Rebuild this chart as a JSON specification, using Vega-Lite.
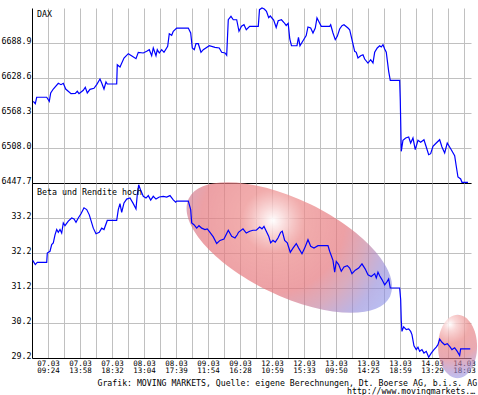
{
  "$schema": "https://vega.github.io/schema/vega-lite/v6.json",
  "background": "white",
  "padding": {"left": 1, "top": 5, "right": 0, "bottom": 0},
  "bounds": "flush",
  "spacing": 0,
  "config": {
    "view": {"stroke": null},
    "font": "DejaVu Sans Mono",
    "axis": {"labelFont": "DejaVu Sans Mono", "titleFont": "DejaVu Sans Mono", "labelColor": "black", "titleColor": "black", "gridColor": "#c0c0c0", "gridWidth": 1, "domainColor": "black", "domainWidth": 1, "ticks": false, "labelOverlap": false},
    "axisX": {"labelOverlap": false}
  },
  "title": {"text": "http://www.movingmarkets.de", "orient": "bottom", "anchor": "start", "dx": 346, "offset": 1, "baseline": "top", "fontSize": 8.2, "fontWeight": "normal", "font": "DejaVu Sans Mono", "color": "black", "limit": 131},
  "datasets": {
    "dax": [
      {"t":0.081,"v":6588.5},{"t":0.206,"v":6584.3},{"t":0.294,"v":6595.4},{"t":0.919,"v":6595.4},{"t":1.081,"v":6588.5},{"t":1.169,"v":6602.8},{"t":1.331,"v":6609.6},{"t":1.644,"v":6619.5},{"t":1.813,"v":6617.1},{"t":1.956,"v":6619.5},{"t":2.106,"v":6609.6},{"t":2.438,"v":6601.6},{"t":2.706,"v":6602.2},{"t":2.831,"v":6605.7},{"t":2.938,"v":6601.6},{"t":3.206,"v":6607.4},{"t":3.331,"v":6612.6},{"t":3.456,"v":6602.8},{"t":3.625,"v":6609.1},{"t":3.875,"v":6610.9},{"t":4.044,"v":6617.1},{"t":4.25,"v":6626.9},{"t":4.356,"v":6620.0},{"t":4.5,"v":6609.6},{"t":4.625,"v":6621.7},{"t":4.706,"v":6618.3},{"t":5.294,"v":6618.3},{"t":5.331,"v":6651.5},{"t":5.5,"v":6647.6},{"t":5.75,"v":6663.1},{"t":6.019,"v":6670.5},{"t":6.269,"v":6666.0},{"t":6.5,"v":6661.9},{"t":6.644,"v":6672.9},{"t":6.956,"v":6671.7},{"t":7.169,"v":6674.6},{"t":7.331,"v":6677.4},{"t":7.481,"v":6667.0},{"t":7.581,"v":6680.3},{"t":7.75,"v":6667.0},{"t":7.831,"v":6677.4},{"t":7.956,"v":6671.7},{"t":8.106,"v":6677.4},{"t":8.25,"v":6672.9},{"t":8.481,"v":6683.2},{"t":8.581,"v":6704.9},{"t":8.731,"v":6702.2},{"t":8.831,"v":6709.1},{"t":9.044,"v":6714.7},{"t":9.769,"v":6714.7},{"t":9.919,"v":6706.1},{"t":10.019,"v":6680.3},{"t":10.144,"v":6677.4},{"t":10.25,"v":6687.7},{"t":10.394,"v":6687.7},{"t":10.563,"v":6672.9},{"t":10.706,"v":6677.4},{"t":11.081,"v":6684.2},{"t":11.438,"v":6681.5},{"t":11.706,"v":6680.3},{"t":11.856,"v":6672.9},{"t":12.063,"v":6671.7},{"t":12.169,"v":6667.7},{"t":12.269,"v":6729.0},{"t":12.438,"v":6734.9},{"t":12.581,"v":6729.0},{"t":12.794,"v":6729.0},{"t":12.938,"v":6709.1},{"t":13.094,"v":6717.7},{"t":13.25,"v":6720.4},{"t":13.394,"v":6711.8},{"t":13.606,"v":6717.7},{"t":14.144,"v":6717.7},{"t":14.219,"v":6746.3},{"t":14.375,"v":6749.2},{"t":14.519,"v":6747.5},{"t":14.656,"v":6743.5},{"t":14.794,"v":6732.5},{"t":14.894,"v":6735.4},{"t":15.106,"v":6728.5},{"t":15.263,"v":6715.6},{"t":15.388,"v":6727.2},{"t":15.594,"v":6729.0},{"t":15.75,"v":6724.2},{"t":15.888,"v":6719.1},{"t":16.013,"v":6722.8},{"t":16.113,"v":6695.8},{"t":16.219,"v":6684.2},{"t":16.563,"v":6684.2},{"t":16.656,"v":6698.7},{"t":16.75,"v":6684.2},{"t":16.95,"v":6693.2},{"t":17.138,"v":6701.8},{"t":17.25,"v":6716.5},{"t":17.419,"v":6714.7},{"t":17.563,"v":6706.1},{"t":17.706,"v":6714.7},{"t":17.813,"v":6732.0},{"t":17.919,"v":6726.3},{"t":18.081,"v":6717.7},{"t":18.606,"v":6717.7},{"t":18.669,"v":6720.4},{"t":18.813,"v":6706.1},{"t":18.956,"v":6694.6},{"t":19.081,"v":6700.4},{"t":19.231,"v":6713.0},{"t":19.375,"v":6718.7},{"t":19.5,"v":6720.4},{"t":19.75,"v":6714.7},{"t":19.856,"v":6711.8},{"t":20.0,"v":6694.6},{"t":20.169,"v":6674.6},{"t":20.269,"v":6672.9},{"t":20.375,"v":6663.1},{"t":20.544,"v":6667.0},{"t":20.688,"v":6668.7},{"t":20.794,"v":6661.3},{"t":21.0,"v":6654.4},{"t":21.169,"v":6660.1},{"t":21.313,"v":6654.4},{"t":21.419,"v":6672.9},{"t":21.581,"v":6680.3},{"t":21.731,"v":6684.2},{"t":21.831,"v":6682.0},{"t":21.938,"v":6686.0},{"t":22.044,"v":6678.6},{"t":22.144,"v":6672.9},{"t":22.294,"v":6640.1},{"t":22.394,"v":6624.6},{"t":22.981,"v":6624.6},{"t":23.019,"v":6591.2},{"t":23.081,"v":6502.3},{"t":23.188,"v":6521.3},{"t":23.356,"v":6525.2},{"t":23.544,"v":6527.0},{"t":23.669,"v":6516.6},{"t":23.813,"v":6525.2},{"t":23.956,"v":6505.1},{"t":24.125,"v":6521.3},{"t":24.294,"v":6517.8},{"t":24.5,"v":6522.3},{"t":24.644,"v":6509.7},{"t":24.794,"v":6496.5},{"t":24.919,"v":6498.2},{"t":25.063,"v":6510.9},{"t":25.269,"v":6516.6},{"t":25.481,"v":6522.3},{"t":25.625,"v":6509.7},{"t":25.794,"v":6499.4},{"t":25.956,"v":6516.6},{"t":26.206,"v":6505.1},{"t":26.419,"v":6494.7},{"t":26.519,"v":6476.5},{"t":26.625,"v":6458.0},{"t":26.794,"v":6454.6},{"t":26.875,"v":6448.9},{"t":27.25,"v":6448.9}
    ],
    "beta": [
      {"t":0.044,"v":31.99},{"t":0.206,"v":31.87},{"t":0.331,"v":31.93},{"t":0.919,"v":31.93},{"t":0.956,"v":32.2},{"t":1.125,"v":32.25},{"t":1.231,"v":32.44},{"t":1.331,"v":32.49},{"t":1.438,"v":32.72},{"t":1.544,"v":32.87},{"t":1.644,"v":32.79},{"t":1.75,"v":32.87},{"t":1.856,"v":32.77},{"t":1.956,"v":33.06},{"t":2.063,"v":32.98},{"t":2.269,"v":33.11},{"t":2.481,"v":33.2},{"t":2.625,"v":33.17},{"t":2.75,"v":33.08},{"t":2.894,"v":33.2},{"t":3.063,"v":33.32},{"t":3.25,"v":33.49},{"t":3.419,"v":33.44},{"t":3.581,"v":33.29},{"t":3.831,"v":32.91},{"t":4.0,"v":32.75},{"t":4.206,"v":32.79},{"t":4.356,"v":32.91},{"t":4.5,"v":32.87},{"t":4.706,"v":33.13},{"t":5.294,"v":33.13},{"t":5.394,"v":33.44},{"t":5.5,"v":33.61},{"t":5.606,"v":33.36},{"t":5.75,"v":33.63},{"t":5.919,"v":33.74},{"t":6.125,"v":33.77},{"t":6.331,"v":33.61},{"t":6.5,"v":33.46},{"t":6.581,"v":33.87},{"t":6.669,"v":34.15},{"t":6.794,"v":33.99},{"t":6.956,"v":33.82},{"t":7.125,"v":33.77},{"t":7.269,"v":33.84},{"t":7.419,"v":33.71},{"t":7.581,"v":33.82},{"t":7.75,"v":33.74},{"t":7.956,"v":33.8},{"t":8.206,"v":33.82},{"t":8.419,"v":33.8},{"t":8.625,"v":33.84},{"t":8.831,"v":33.72},{"t":8.981,"v":33.65},{"t":9.044,"v":33.68},{"t":9.769,"v":33.68},{"t":9.919,"v":33.44},{"t":9.981,"v":33.06},{"t":10.125,"v":33.01},{"t":10.294,"v":32.91},{"t":10.438,"v":32.98},{"t":10.606,"v":32.91},{"t":10.813,"v":32.87},{"t":10.956,"v":32.89},{"t":11.125,"v":32.79},{"t":11.331,"v":32.66},{"t":11.544,"v":32.47},{"t":11.75,"v":32.56},{"t":12.0,"v":32.6},{"t":12.269,"v":32.85},{"t":12.481,"v":32.68},{"t":12.688,"v":32.63},{"t":12.831,"v":32.72},{"t":12.906,"v":32.79},{"t":13.188,"v":32.89},{"t":13.394,"v":32.77},{"t":13.606,"v":32.82},{"t":13.813,"v":32.85},{"t":14.019,"v":32.85},{"t":14.231,"v":32.94},{"t":14.375,"v":32.89},{"t":14.5,"v":32.96},{"t":14.644,"v":32.82},{"t":14.794,"v":32.68},{"t":14.919,"v":32.49},{"t":15.063,"v":32.56},{"t":15.206,"v":32.51},{"t":15.375,"v":32.63},{"t":15.544,"v":32.79},{"t":15.644,"v":32.82},{"t":15.794,"v":32.56},{"t":15.956,"v":32.49},{"t":16.144,"v":32.22},{"t":16.313,"v":32.34},{"t":16.519,"v":32.47},{"t":16.669,"v":32.34},{"t":16.875,"v":32.18},{"t":17.044,"v":32.34},{"t":17.25,"v":32.58},{"t":17.419,"v":32.39},{"t":17.625,"v":32.34},{"t":17.875,"v":32.41},{"t":18.5,"v":32.41},{"t":18.606,"v":32.25},{"t":18.813,"v":31.99},{"t":18.919,"v":31.65},{"t":19.019,"v":31.96},{"t":19.169,"v":31.87},{"t":19.331,"v":31.68},{"t":19.5,"v":31.8},{"t":19.706,"v":31.84},{"t":19.856,"v":31.77},{"t":20.0,"v":31.61},{"t":20.206,"v":31.71},{"t":20.419,"v":31.77},{"t":20.625,"v":31.89},{"t":20.831,"v":31.74},{"t":21.0,"v":31.58},{"t":21.206,"v":31.53},{"t":21.419,"v":31.61},{"t":21.519,"v":31.49},{"t":21.625,"v":31.65},{"t":21.731,"v":31.55},{"t":21.875,"v":31.44},{"t":22.044,"v":31.29},{"t":22.206,"v":31.39},{"t":22.294,"v":31.46},{"t":22.394,"v":31.2},{"t":22.981,"v":31.2},{"t":23.044,"v":30.87},{"t":23.081,"v":30.28},{"t":23.125,"v":29.96},{"t":23.231,"v":30.09},{"t":23.394,"v":30.01},{"t":23.544,"v":30.03},{"t":23.669,"v":29.96},{"t":23.75,"v":29.87},{"t":23.875,"v":29.55},{"t":24.019,"v":29.44},{"t":24.125,"v":29.51},{"t":24.231,"v":29.39},{"t":24.375,"v":29.44},{"t":24.5,"v":29.34},{"t":24.644,"v":29.39},{"t":24.794,"v":29.22},{"t":24.956,"v":29.34},{"t":25.125,"v":29.44},{"t":25.269,"v":29.51},{"t":25.375,"v":29.58},{"t":25.481,"v":29.74},{"t":25.625,"v":29.65},{"t":25.794,"v":29.58},{"t":25.956,"v":29.61},{"t":26.106,"v":29.53},{"t":26.25,"v":29.44},{"t":26.419,"v":29.49},{"t":26.581,"v":29.39},{"t":26.731,"v":29.27},{"t":26.794,"v":29.46},{"t":27.394,"v":29.46}
    ]
  },
  "vconcat": [
    {
      "width": 439,
      "height": 175,
      "title": {"text": "DAX", "orient": "top", "anchor": "start", "frame": "group", "offset": -20, "dx": 5, "baseline": "alphabetic", "fontSize": 8.3, "fontWeight": "normal", "font": "DejaVu Sans Mono", "color": "black"},
      "data": {"name": "dax"},
      "mark": {"type": "line", "color": "#0000ff", "strokeWidth": 1.2},
      "encoding": {
        "x": {"field": "t", "type": "quantitative", "scale": {"domain": [0, 27.44], "nice": false, "zero": false},
              "axis": {"values": [1,2,3,4,5,6,7,8,9,10,11,12,13,14,15,16,17,18,19,20,21,22,23,24,25,26,27], "labels": false, "title": null, "grid": true}},
        "y": {"field": "v", "type": "quantitative", "scale": {"domain": [6447.7, 6749.2], "nice": false, "zero": false},
              "axis": {"values": [6447.7, 6508.0, 6568.3, 6628.6, 6688.9], "format": ".1f", "title": null, "grid": true, "labelBaseline": "alphabetic", "labelPadding": 1, "labelFontSize": 8.3}}
      }
    },
    {
      "width": 439,
      "height": 175,
      "title": {"text": "Beta und Rendite hoch", "orient": "top", "anchor": "start", "frame": "group", "offset": -21, "dx": 5, "baseline": "alphabetic", "fontSize": 8.3, "fontWeight": "normal", "font": "DejaVu Sans Mono", "color": "black"},
      "layer": [
        {
          "data": {"values": [{"t": 16.09, "v": 32.357}]},
          "mark": {"type": "point", "filled": true, "size": 50176, "strokeWidth": 0, "opacity": 1,
                   "shape": "M0.8988,0.4384C0.795,0.6511,0.3085,0.6273,-0.1879,0.3852C-0.6843,0.1431,-1.0026,-0.2257,-0.8988,-0.4384C-0.795,-0.6511,-0.3085,-0.6273,0.1879,-0.3852C0.6843,-0.1431,1.0026,0.2257,0.8988,0.4384Z",
                   "fill": {"gradient": "radial", "x1": 0.42, "y1": 0.37, "r1": 0, "x2": 0.42, "y2": 0.37, "r2": 0.7,
                            "stops": [{"offset": 0, "color": "rgba(255,255,255,0.95)"}, {"offset": 0.07, "color": "rgba(250,220,220,0.85)"}, {"offset": 0.22, "color": "rgba(236,140,140,0.72)"}, {"offset": 0.5, "color": "rgba(228,115,122,0.68)"}, {"offset": 0.66, "color": "rgba(195,120,150,0.62)"}, {"offset": 0.84, "color": "rgba(145,135,215,0.62)"}, {"offset": 1, "color": "rgba(135,145,235,0.58)"}]}},
          "encoding": {
            "x": {"field": "t", "type": "quantitative", "scale": {"domain": [0, 27.44], "nice": false, "zero": false},
                  "axis": {"values": [1,2,3,4,5,6,7,8,9,10,11,12,13,14,15,16,17,18,19,20,21,22,23,24,25,26,27], "grid": true,
                           "labelExpr": "datum.value % 2 == 1 ? [['07.03','07.03','07.03','08.03','08.03','09.03','09.03','12.03','12.03','13.03','13.03','13.03','14.03','14.03'][floor(datum.value/2)], ['09:24','13:58','18:32','13:04','17:39','11:54','16:28','10:59','15:33','09:50','14:25','18:59','13:29','18:03'][floor(datum.value/2)]] : ''",
                           "labelOverlap": false, "labelFlush": false, "labelBound": false, "labelSeparation": 0, "labelBaseline": "top", "labelLineHeight": 7.5, "labelPadding": 1, "labelFontSize": 7.5,
                           "title": "Grafik: MOVING MARKETS, Quelle: eigene Berechnungen, Dt. Boerse AG, b.i.s. AG", "titleX": 65, "titleY": 27.5, "titleAlign": "left", "titleAnchor": "start", "titleBaseline": "alphabetic", "titleFontSize": 8.2, "titleFontWeight": "normal", "titleLimit": 381}},
            "y": {"field": "v", "type": "quantitative", "scale": {"domain": [29.2, 34.2], "nice": false, "zero": false},
                  "axis": {"values": [29.2, 30.2, 31.2, 32.2, 33.2], "format": ".1f", "title": null, "grid": true, "labelBaseline": "alphabetic", "labelPadding": 1, "labelFontSize": 8.3}}
          }
        },
        {
          "data": {"values": [{"t": 26.6, "v": 29.53}]},
          "mark": {"type": "point", "filled": true, "size": 4020, "strokeWidth": 0, "opacity": 1,
                   "shape": "M0.615,0C0.615,0.5523,0.3397,1,0,1C-0.3397,1,-0.615,0.5523,-0.615,0C-0.615,-0.5523,-0.3397,-1,0,-1C0.3397,-1,0.615,-0.5523,0.615,0Z",
                   "fill": {"gradient": "radial", "x1": 0.38, "y1": 0.15, "r1": 0, "x2": 0.38, "y2": 0.15, "r2": 0.87,
                            "stops": [{"offset": 0, "color": "rgba(255,255,255,0.9)"}, {"offset": 0.12, "color": "rgba(248,205,205,0.8)"}, {"offset": 0.35, "color": "rgba(234,140,140,0.72)"}, {"offset": 0.62, "color": "rgba(222,125,138,0.66)"}, {"offset": 0.85, "color": "rgba(170,135,200,0.62)"}, {"offset": 1, "color": "rgba(145,145,230,0.58)"}]}},
          "encoding": {
            "x": {"field": "t", "type": "quantitative", "scale": {"domain": [0, 27.44], "nice": false, "zero": false},
                  "axis": {"values": [1,2,3,4,5,6,7,8,9,10,11,12,13,14,15,16,17,18,19,20,21,22,23,24,25,26,27], "grid": true,
                           "labelExpr": "datum.value % 2 == 1 ? [['07.03','07.03','07.03','08.03','08.03','09.03','09.03','12.03','12.03','13.03','13.03','13.03','14.03','14.03'][floor(datum.value/2)], ['09:24','13:58','18:32','13:04','17:39','11:54','16:28','10:59','15:33','09:50','14:25','18:59','13:29','18:03'][floor(datum.value/2)]] : ''",
                           "labelOverlap": false, "labelFlush": false, "labelBound": false, "labelSeparation": 0, "labelBaseline": "top", "labelLineHeight": 7.5, "labelPadding": 1, "labelFontSize": 7.5,
                           "title": "Grafik: MOVING MARKETS, Quelle: eigene Berechnungen, Dt. Boerse AG, b.i.s. AG", "titleX": 65, "titleY": 27.5, "titleAlign": "left", "titleAnchor": "start", "titleBaseline": "alphabetic", "titleFontSize": 8.2, "titleFontWeight": "normal", "titleLimit": 381}},
            "y": {"field": "v", "type": "quantitative", "scale": {"domain": [29.2, 34.2], "nice": false, "zero": false},
                  "axis": {"values": [29.2, 30.2, 31.2, 32.2, 33.2], "format": ".1f", "title": null, "grid": true, "labelBaseline": "alphabetic", "labelPadding": 1, "labelFontSize": 8.3}}
          }
        },
        {
          "data": {"name": "beta"},
          "mark": {"type": "line", "color": "#0000ff", "strokeWidth": 1.2},
          "encoding": {
            "x": {"field": "t", "type": "quantitative", "scale": {"domain": [0, 27.44], "nice": false, "zero": false},
                  "axis": {"values": [1,2,3,4,5,6,7,8,9,10,11,12,13,14,15,16,17,18,19,20,21,22,23,24,25,26,27], "grid": true,
                           "labelExpr": "datum.value % 2 == 1 ? [['07.03','07.03','07.03','08.03','08.03','09.03','09.03','12.03','12.03','13.03','13.03','13.03','14.03','14.03'][floor(datum.value/2)], ['09:24','13:58','18:32','13:04','17:39','11:54','16:28','10:59','15:33','09:50','14:25','18:59','13:29','18:03'][floor(datum.value/2)]] : ''",
                           "labelOverlap": false, "labelFlush": false, "labelBound": false, "labelSeparation": 0, "labelBaseline": "top", "labelLineHeight": 7.5, "labelPadding": 1, "labelFontSize": 7.5,
                           "title": "Grafik: MOVING MARKETS, Quelle: eigene Berechnungen, Dt. Boerse AG, b.i.s. AG", "titleX": 65, "titleY": 27.5, "titleAlign": "left", "titleAnchor": "start", "titleBaseline": "alphabetic", "titleFontSize": 8.2, "titleFontWeight": "normal", "titleLimit": 381}},
            "y": {"field": "v", "type": "quantitative", "scale": {"domain": [29.2, 34.2], "nice": false, "zero": false},
                  "axis": {"values": [29.2, 30.2, 31.2, 32.2, 33.2], "format": ".1f", "title": null, "grid": true, "labelBaseline": "alphabetic", "labelPadding": 1, "labelFontSize": 8.3}}
          }
        }
      ]
    }
  ]
}
